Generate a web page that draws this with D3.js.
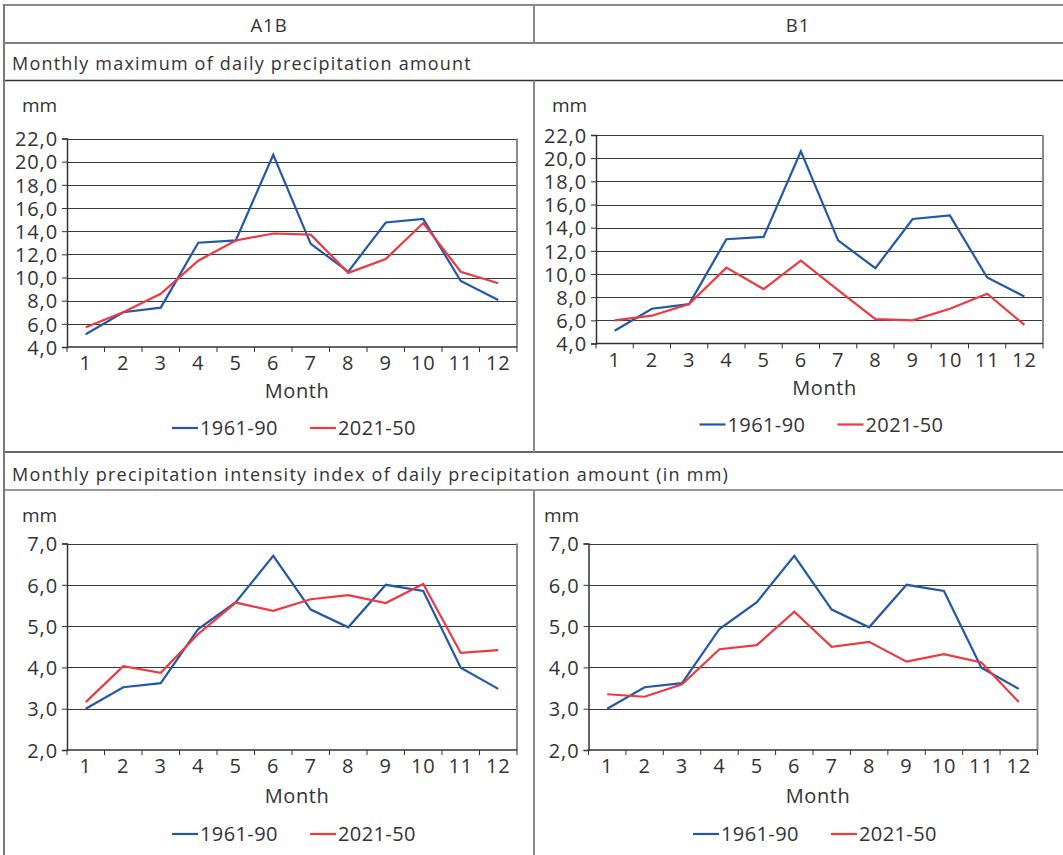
<!DOCTYPE html>
<html>
<head>
<meta charset="utf-8">
<script src="https://cdn.jsdelivr.net/npm/d3@7/dist/d3.min.js"></script>
<style>
  html, body { margin: 0; padding: 0; background: #fff; }
  svg { display: block; }
  svg text { fill: #333; font-family: "Open Sans", "Noto Sans", sans-serif; }
</style>
</head>
<body>
<svg id="chart" width="1063" height="855"></svg>
<script>
// Months on the x axis
const months = ["1", "2", "3", "4", "5", "6", "7", "8", "9", "10", "11", "12"];

// Monthly maximum of daily precipitation amount (mm)
const maxTicks = [4, 6, 8, 10, 12, 14, 16, 18, 20, 22];
const max1961 = [5.1, 7.0, 7.4, 13.0, 13.2, 20.6, 12.9, 10.5, 14.75, 15.05, 9.7, 8.05];
const maxA1B2021 = [5.7, 7.0, 8.6, 11.45, 13.2, 13.8, 13.7, 10.4, 11.6, 14.7, 10.5, 9.5];
const maxB12021 = [6.0, 6.4, 7.4, 10.55, 8.7, 11.15, 8.6, 6.1, 6.0, 7.0, 8.3, 5.6];

// Monthly precipitation intensity index (mm)
const intTicks = [2, 3, 4, 5, 6, 7];
const int1961 = [3.0, 3.52, 3.62, 4.93, 5.58, 6.70, 5.40, 4.97, 6.0, 5.85, 3.99, 3.48];
const intA1B2021 = [3.16, 4.03, 3.87, 4.81, 5.57, 5.37, 5.65, 5.75, 5.56, 6.02, 4.35, 4.42];
const intB12021 = [3.35, 3.29, 3.59, 4.44, 4.54, 5.35, 4.5, 4.62, 4.14, 4.32, 4.12, 3.16];

const seriesNames = ["1961-90", "2021-50"];
const scenarios = ["A1B", "B1"];
const rowTitles = [
  "Monthly maximum of daily precipitation amount",
  "Monthly precipitation intensity index of daily precipitation amount (in mm)"
];

const BLUE = "#2358a6";
const RED = "#ee3942";

const svg = d3.select("#chart");

// ---- table frame ----
const frame = svg.append("g");
const hLines = [
  { y: 5, c: "#8a8a8a", w: 2 },
  { y: 43, c: "#555", w: 1.5 },
  { y: 80.5, c: "#333", w: 1.5 },
  { y: 452, c: "#333", w: 1.5 },
  { y: 490, c: "#777", w: 1.5 }
];
hLines.forEach(l => frame.append("line")
  .attr("x1", 3).attr("x2", 1063).attr("y1", l.y).attr("y2", l.y)
  .attr("stroke", l.c).attr("stroke-width", l.w));
frame.append("line").attr("x1", 4).attr("x2", 4).attr("y1", 4).attr("y2", 855)
  .attr("stroke", "#7a7a7a").attr("stroke-width", 2);
[[5, 43], [80.5, 452], [490, 855]].forEach(([a, b]) => frame.append("line")
  .attr("x1", 534).attr("x2", 534).attr("y1", a).attr("y2", b)
  .attr("stroke", "#8a8a8a").attr("stroke-width", 2));

// header cells
frame.append("text").attr("x", 269).attr("y", 32).attr("text-anchor", "middle")
  .style("font-size", "18.5px").style("letter-spacing", "1px").text(scenarios[0]);
frame.append("text").attr("x", 798).attr("y", 32).attr("text-anchor", "middle")
  .style("font-size", "18.5px").style("letter-spacing", "1px").text(scenarios[1]);

// row titles
frame.append("text").attr("x", 12).attr("y", 70).style("font-size", "18px")
  .style("letter-spacing", "1.2px").text(rowTitles[0]);
frame.append("text").attr("x", 12).attr("y", 481).style("font-size", "18px")
  .style("letter-spacing", "1.25px").text(rowTitles[1]);

const fmt = d => d.toFixed(1).replace(".", ",");

// ---- one line chart panel ----
function panel(opt) {
  const g = svg.append("g");
  const x = d3.scaleBand().domain(months).range([opt.left, opt.right]).paddingInner(0).paddingOuter(0);
  const y = d3.scaleLinear().domain(opt.domain).range([opt.bottom, opt.top]);

  // horizontal gridlines
  g.append("g").selectAll("line").data(opt.ticks.slice(1)).join("line")
    .attr("x1", opt.left).attr("x2", opt.right)
    .attr("y1", d => Math.round(y(d)) + 0.5).attr("y2", d => Math.round(y(d)) + 0.5)
    .attr("stroke", "#3a3a3a").attr("stroke-width", 1.2);

  // right border of the plot area
  g.append("line").attr("x1", opt.right).attr("x2", opt.right)
    .attr("y1", opt.top).attr("y2", opt.bottom)
    .attr("stroke", "#8c8c8c").attr("stroke-width", 2);

  // y axis
  const yAxis = d3.axisLeft(y).tickValues(opt.ticks).tickFormat(fmt).tickSize(5).tickPadding(4);
  const ya = g.append("g").attr("transform", `translate(${opt.left},0)`).call(yAxis)
    .attr("font-family", null).attr("font-size", null);
  ya.select(".domain").attr("stroke", "#333").attr("stroke-width", 1.5);
  ya.selectAll(".tick line").attr("stroke", "#333");
  ya.selectAll("text").style("font-size", "20px").style("letter-spacing", "0.9px")
    .attr("fill", "#333").attr("dy", "0.36em");

  // x axis: labels at band centres, tick marks at band boundaries
  const xAxis = d3.axisBottom(x).tickSize(0).tickPadding(9);
  const xa = g.append("g").attr("transform", `translate(0,${opt.bottom})`).call(xAxis)
    .attr("font-family", null).attr("font-size", null);
  xa.select(".domain").remove();
  xa.selectAll("text").style("font-size", "20px").style("letter-spacing", "0.9px").attr("fill", "#333");
  const bounds = months.map(m => x(m)).concat([x(months[months.length - 1]) + x.bandwidth()]);
  g.append("line").attr("x1", opt.left).attr("x2", opt.right)
    .attr("y1", opt.bottom).attr("y2", opt.bottom)
    .attr("stroke", "#333").attr("stroke-width", 1.5);
  g.append("g").selectAll("line").data(bounds).join("line")
    .attr("x1", d => d).attr("x2", d => d)
    .attr("y1", opt.bottom).attr("y2", opt.bottom + 5)
    .attr("stroke", "#333").attr("stroke-width", 1);

  // axis titles
  g.append("text").attr("x", opt.mmX).attr("y", opt.mmY).style("font-size", "19px").text("mm");
  const cx = (opt.left + opt.right) / 2;
  g.append("text").attr("x", cx + 5).attr("y", opt.bottom + opt.monthDy)
    .attr("text-anchor", "middle").style("font-size", "20px").style("letter-spacing", "0.6px")
    .text("Month");

  // series lines
  const line = d3.line().x((d, i) => x(months[i]) + x.bandwidth() / 2).y(d => y(d));
  [[opt.base, BLUE], [opt.future, RED]].forEach(([vals, col]) => {
    g.append("path").datum(vals).attr("d", line)
      .attr("fill", "none").attr("stroke", col).attr("stroke-width", 2.2)
      .attr("stroke-linejoin", "miter");
  });

  // legend
  const ly = opt.bottom + opt.legendDy;
  const lx = cx - 120;
  [[BLUE, seriesNames[0], 0], [RED, seriesNames[1], 138]].forEach(([col, name, off]) => {
    g.append("line").attr("x1", lx + off).attr("x2", lx + off + 26)
      .attr("y1", ly).attr("y2", ly).attr("stroke", col).attr("stroke-width", 2.2);
    g.append("text").attr("x", lx + off + 28).attr("y", ly).attr("dy", "0.36em")
      .style("font-size", "20px").style("letter-spacing", "0.4px").text(name);
  });
}

panel({ left: 67, right: 517, top: 138.5, bottom: 347, domain: [4, 22], ticks: maxTicks,
  base: max1961, future: maxA1B2021, mmX: 22, mmY: 112, monthDy: 51, legendDy: 81 });
panel({ left: 596, right: 1043, top: 135, bottom: 343.5, domain: [4, 22], ticks: maxTicks,
  base: max1961, future: maxB12021, mmX: 552, mmY: 112, monthDy: 51, legendDy: 81 });
panel({ left: 67, right: 517, top: 543.5, bottom: 750, domain: [2, 7], ticks: intTicks,
  base: int1961, future: intA1B2021, mmX: 22, mmY: 522, monthDy: 53, legendDy: 84 });
panel({ left: 588.5, right: 1037.5, top: 543.5, bottom: 750, domain: [2, 7], ticks: intTicks,
  base: int1961, future: intB12021, mmX: 544, mmY: 522, monthDy: 53, legendDy: 84 });
</script>
</body>
</html>
